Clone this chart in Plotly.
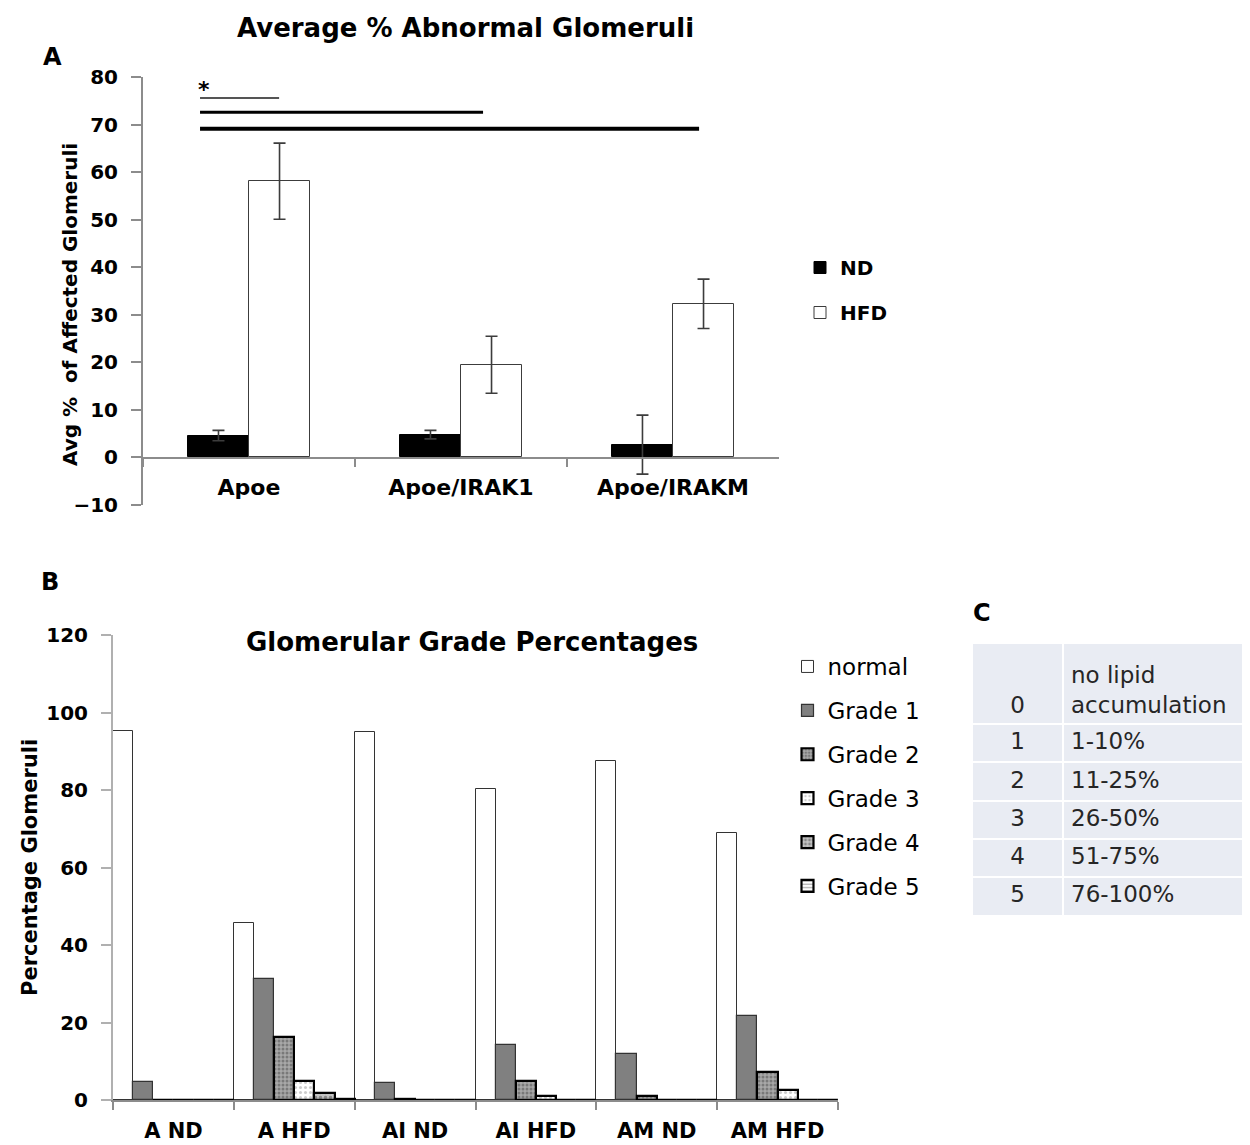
import plotly.graph_objects as go

# ---------------- Panel A: average % abnormal glomeruli ----------------
genotypes = ["Apoe", "Apoe/IRAK1", "Apoe/IRAKM"]
nd_mean = [4.6, 4.8, 2.7]
nd_err = [1.1, 0.9, 6.2]
hfd_mean = [58.1, 19.5, 32.3]
hfd_err = [8.0, 6.0, 5.2]

# Apoe ND compared against the HFD bar of each genotype
comparison_targets = ["Apoe", "Apoe/IRAK1", "Apoe/IRAKM"]
comparison_levels = [75.6, 72.6, 69.1]

# ---------------- Panel B: glomerular grade percentages ----------------
groups = ["A ND", "A HFD", "AI ND", "AI HFD", "AM ND", "AM HFD"]
grade_names = ["normal", "Grade 1", "Grade 2", "Grade 3", "Grade 4", "Grade 5"]
normal = [95.2, 45.8, 95.0, 80.3, 87.6, 68.8]
grade1 = [4.6, 31.1, 4.5, 14.1, 11.8, 21.7]
grade2 = [0.0, 16.3, 0.2, 4.9, 1.0, 7.1]
grade3 = [0.0, 4.9, 0.0, 1.0, 0.0, 2.7]
grade4 = [0.0, 1.7, 0.0, 0.0, 0.0, 0.0]
grade5 = [0.0, 0.3, 0.0, 0.0, 0.0, 0.0]

# ---------------- Panel C: grading scale ----------------
grade_codes = ["0", "1", "2", "3", "4", "5"]
lipid_ranges = ["no lipid accumulation", "1-10%", "11-25%", "26-50%", "51-75%", "76-100%"]

FONT = "DejaVu Sans"
AXIS_GREY = "#8c8c8c"
W, H = 1250, 1145


def py(px):
    """Paper y fraction for a pixel row measured from the top."""
    return 1 - px / H


fig = go.Figure()

# Panel A bars (two bars per genotype, side by side)
bar_w = 0.288
fig.add_trace(go.Bar(
    x=genotypes, y=nd_mean, name="ND", width=bar_w, offset=-bar_w,
    marker=dict(color="black", line=dict(color="black", width=1)),
    error_y=dict(type="data", array=nd_err, color="#3c3c3c", thickness=1.6, width=6),
    xaxis="x", yaxis="y", legend="legend", legendgroup="nd",
))
fig.add_trace(go.Bar(
    x=genotypes, y=hfd_mean, name="HFD", width=bar_w, offset=0,
    marker=dict(color="white", line=dict(color="#3c3c3c", width=1)),
    error_y=dict(type="data", array=hfd_err, color="#3c3c3c", thickness=1.6, width=6),
    xaxis="x", yaxis="y", legend="legend", legendgroup="hfd",
))

# Panel B bars: six grades filling each group
grade_values = [normal, grade1, grade2, grade3, grade4, grade5]
grade_styles = [
    dict(color="white", line=dict(color="#333333", width=1)),
    dict(color="#808080", line=dict(color="#333333", width=1.2)),
    dict(color="#a0a0a0", line=dict(color="black", width=2.2),
         pattern=dict(shape=".", fgcolor="#4a4a4a", bgcolor="#a8a8a8", size=4, solidity=0.45)),
    dict(color="white", line=dict(color="black", width=2.2),
         pattern=dict(shape=".", fgcolor="#9a9a9a", bgcolor="white", size=5, solidity=0.3)),
    dict(color="#a0a0a0", line=dict(color="black", width=2.2),
         pattern=dict(shape=".", fgcolor="#4a4a4a", bgcolor="#c4c4c4", size=5, solidity=0.4)),
    dict(color="white", line=dict(color="black", width=2.2),
         pattern=dict(shape="-", fgcolor="#777777", bgcolor="white", size=4, solidity=0.5)),
]
n = len(grade_names)
for k, (name, vals, style) in enumerate(zip(grade_names, grade_values, grade_styles)):
    fig.add_trace(go.Bar(
        x=groups, y=vals, name=name, width=1 / n, offset=-0.5 + k / n,
        marker=style, xaxis="x2", yaxis="y2", legend="legend2", legendgroup=name,
    ))

# Panel C table: shaded grid with the range rows, plus a text layer for the
# two-line first row so its text sits lower inside the tall cell
fill_c = "#e9ecf3"
table_font = dict(family=FONT, size=23, color="#262626")
tbl_x = [972 / W, 1243 / W]
fig.add_trace(go.Table(
    domain=dict(x=tbl_x, y=[py(930), py(643)]),
    columnwidth=[91, 180],
    header=dict(values=["", ""], fill_color=fill_c, line=dict(color="white", width=2),
                font=table_font, height=81),
    cells=dict(
        values=[grade_codes[1:], lipid_ranges[1:]],
        fill_color=fill_c, line=dict(color="white", width=2),
        align=["center", "left"], font=table_font, height=38.3,
    ),
))
clear = "rgba(0,0,0,0)"
fig.add_trace(go.Table(
    domain=dict(x=tbl_x, y=[py(930), py(654)]),
    columnwidth=[91, 180],
    header=dict(
        values=["\u00a0<br>" + grade_codes[0], lipid_ranges[0].replace("lipid ", "lipid<br>")],
        fill_color=clear, line=dict(color=clear, width=0),
        align=["center", "left"], font=table_font, height=60,
    ),
    cells=dict(values=[[], []], fill_color=clear, line=dict(color=clear, width=0)),
))

# Significance bars for panel A
sig_start = -0.231
bracket_end_offsets = [0.142, 0.104, 0.123]
shapes = []
line_styles = [("#555555", 2), ("black", 3), ("black", 4)]
for target, off, level, (col, w) in zip(comparison_targets, bracket_end_offsets,
                                         comparison_levels, line_styles):
    end = genotypes.index(target) + off
    shapes.append(dict(type="line", xref="x", yref="y", x0=sig_start, x1=end,
                       y0=level, y1=level, line=dict(color=col, width=w)))

bold = dict(family=FONT, color="black", weight="bold")


def label(text, x, y, size, angle=0):
    return dict(text=text, x=x / W, y=py(y), xref="paper", yref="paper", showarrow=False,
                textangle=angle, font=dict(size=size, **bold), xanchor="center", yanchor="middle")


annotations = [
    label("Average % Abnormal Glomeruli", 465, 28, 26),
    label("Glomerular Grade Percentages", 472, 642, 26),
    label("A", 52, 57, 24),
    label("B", 50, 582, 24),
    label("C", 982, 613, 24),
    label("Avg %  of Affected Glomeruli", 70, 305, 20, -90),
    label("Percentage Glomeruli", 30, 868, 21, -90),
    dict(text="*", x=sig_start - 0.02, y=77.4, xref="x", yref="y", showarrow=False,
         font=dict(size=22, **bold), xanchor="left", yanchor="middle"),
]

fig.update_layout(
    width=W, height=H,
    margin=dict(l=0, r=0, t=0, b=0, autoexpand=False),
    paper_bgcolor="white", plot_bgcolor="white",
    barmode="group", bargap=0, bargroupgap=0,
    font=dict(family=FONT, color="black"),
    shapes=shapes, annotations=annotations,
    xaxis=dict(
        domain=[143 / W, 779 / W], anchor="free", position=py(457.5), type="category",
        range=[-0.5, 2.5], showline=True, linecolor=AXIS_GREY, linewidth=2,
        ticks="outside", tickson="boundaries", ticklen=8, tickcolor=AXIS_GREY, tickwidth=2,
        tickfont=dict(size=22, **bold), ticklabelstandoff=10,
        showgrid=False, zeroline=False, automargin=False,
    ),
    yaxis=dict(
        domain=[py(505), py(77)], anchor="x", range=[-10, 80], dtick=10,
        showline=True, linecolor=AXIS_GREY, linewidth=2, ticks="outside", ticklen=10,
        tickcolor=AXIS_GREY, tickwidth=2, tickfont=dict(size=20, **bold),
        ticklabelstandoff=9, showgrid=False, zeroline=False, automargin=False,
    ),
    xaxis2=dict(
        domain=[113 / W, 838 / W], anchor="y2", type="category", range=[-0.5, 5.5],
        showline=True, linecolor=AXIS_GREY, linewidth=2, ticks="outside", tickson="boundaries",
        ticklen=8, tickcolor=AXIS_GREY, tickwidth=2, tickfont=dict(size=21, **bold),
        ticklabelstandoff=11, showgrid=False, zeroline=False, automargin=False,
    ),
    yaxis2=dict(
        domain=[py(1100), py(635)], anchor="x2", range=[0, 120], dtick=20,
        showline=True, linecolor="#b0b0b0", linewidth=2, ticks="outside", ticklen=10,
        tickcolor="#b0b0b0", tickwidth=2, tickfont=dict(size=20, **bold),
        ticklabelstandoff=9, showgrid=False, zeroline=False, automargin=False,
    ),
    legend=dict(
        x=0.640, y=py(248), xanchor="left", yanchor="top",
        font=dict(size=20, **bold), traceorder="grouped", tracegroupgap=16,
        bgcolor="rgba(0,0,0,0)",
    ),
    legend2=dict(
        x=0.630, y=py(645), xanchor="left", yanchor="top",
        font=dict(size=23, family=FONT, color="black"), traceorder="grouped", tracegroupgap=11,
        bgcolor="rgba(0,0,0,0)",
    ),
)

fig.write_html("out.html")
